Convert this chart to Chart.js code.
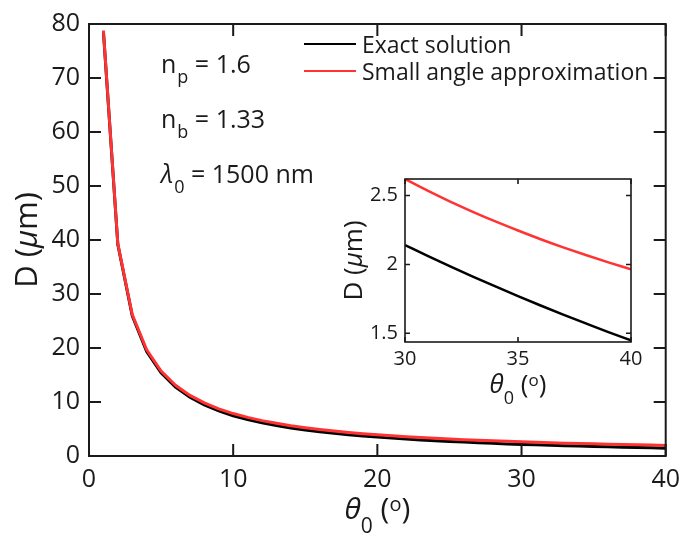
<!DOCTYPE html>
<html><head><meta charset="utf-8">
<script src="https://cdn.jsdelivr.net/npm/chart.js@4/dist/chart.umd.min.js"></script>
<style>
html,body{margin:0;padding:0;background:#fff;}
#wrap{position:relative;width:689px;height:538px;overflow:hidden;}
#main{position:absolute;left:0;top:0;}
#inset{position:absolute;left:330px;top:160px;}
</style></head><body>
<div id="wrap"><canvas id="main" width="689" height="538"></canvas><canvas id="inset" width="320" height="250"></canvas></div>
<script>
// ---- data ----
const theta = [1,2,3,4,5,6,7,8,9,10,11,12,13,14,15,16,17,18,19,20,21,22,23,24,25,26,27,28,29,30,31,32,33,34,35,36,37,38,39,40];
const exactD = [78.6,39.15,25.95,19.35,15.39,12.75,10.87,9.45,8.34,7.46,6.75,6.14,5.64,5.2,4.83,4.5,4.21,3.95,3.72,3.51,3.31,3.14,2.98,2.84,2.70,2.57,2.45,2.34,2.24,2.14,2.062,1.986,1.912,1.840,1.770,1.702,1.636,1.572,1.509,1.449];
const approxD = [78.8,39.3,26.2,19.65,15.72,13.1,11.23,9.83,8.73,7.86,7.15,6.55,6.05,5.61,5.24,4.91,4.62,4.37,4.14,3.93,3.74,3.57,3.42,3.28,3.14,3.02,2.91,2.81,2.71,2.62,2.535,2.456,2.382,2.312,2.246,2.183,2.124,2.068,2.015,1.965];
const seriesNames = ['Exact solution','Small angle approximation'];
const xTicksMain = [0,10,20,30,40];
const yTicksMain = [0,10,20,30,40,50,60,70,80];
const xTicksInset = [30,35,40];
const yTicksInset = [1.5,2,2.5];
const params = [['n','p','= 1.6'],['n','b','= 1.33'],['λ','0','= 1500 nm']];

const FONT = "'Open Sans', sans-serif";
const RED = '#ff3333', BLACK = '#000000', AX = '#1a1a1a';

function pts(xs, ys, lo){ const out=[]; xs.forEach((t,i)=>{ if(lo===undefined || t>=lo) out.push({x:t,y:ys[i]}); }); return out; }

function richWidth(ctx, parts){ let w=0; parts.forEach(p=>{ ctx.font=(p.italic?'italic ':'')+p.size+'px '+FONT; w+=ctx.measureText(p.t).width+(p.gap||0); }); return w; }
function drawRich(ctx, parts, x, y){ let cx=x; parts.forEach(p=>{ ctx.font=(p.italic?'italic ':'')+p.size+'px '+FONT; cx+=(p.gap||0); ctx.fillText(p.t, cx, y+(p.dy||0)); cx+=ctx.measureText(p.t).width; }); }
function drawRichCentered(ctx, parts, cx, y){ ctx.save(); ctx.translate(cx, y); ctx.textBaseline='alphabetic'; ctx.textAlign='left'; const w=richWidth(ctx, parts); drawRich(ctx, parts, -w/2, 0); ctx.restore(); }

function frameAndTicks(chart, xt, yt, len, lw){
  const {ctx, chartArea:a, scales:{x,y}} = chart;
  ctx.save(); ctx.strokeStyle=AX; ctx.lineWidth=lw;
  ctx.beginPath();
  xt.forEach(v=>{ const p=x.getPixelForValue(v); ctx.moveTo(p,a.bottom); ctx.lineTo(p,a.bottom-len); ctx.moveTo(p,a.top); ctx.lineTo(p,a.top+len); });
  yt.forEach(v=>{ const p=y.getPixelForValue(v); ctx.moveTo(a.left,p); ctx.lineTo(a.left+len,p); ctx.moveTo(a.right,p); ctx.lineTo(a.right-len,p); });
  ctx.stroke();
  ctx.strokeRect(a.left, a.top, a.right-a.left, a.bottom-a.top);
  ctx.restore();
}

const decorMain = { id:'decorMain', afterDraw(chart){
  const ctx = chart.ctx, a = chart.chartArea;
  frameAndTicks(chart, xTicksMain, yTicksMain, 12, 2);
  ctx.save(); ctx.fillStyle=AX; ctx.textBaseline='alphabetic';
  // legend
  const cols=[BLACK,RED], ly=[44,71];
  seriesNames.forEach((n,i)=>{
    ctx.strokeStyle=cols[i]; ctx.lineWidth=2; ctx.beginPath(); ctx.moveTo(304,ly[i]); ctx.lineTo(356,ly[i]); ctx.stroke();
    ctx.font='23px '+FONT; ctx.fillText(n, 362, ly[i]+9);
  });
  // parameter annotations
  const base=[73,128,183];
  params.forEach((p,i)=>{
    drawRich(ctx,[{t:p[0],size:25,italic:p[0]==='λ'},{t:p[1],size:18,dy:10,gap:1},{t:' '+p[2],size:25}],161,base[i]);
  });
  // x axis title
  drawRichCentered(ctx,[{t:'θ',size:30,italic:true},{t:'0',size:21,dy:14},{t:' (',size:30},{t:'o',size:20,dy:-8},{t:')',size:30}], (a.left+a.right)/2, 519);
  // y axis title
  ctx.translate(37,(a.top+a.bottom)/2); ctx.rotate(-Math.PI/2);
  drawRichCentered(ctx,[{t:'D (',size:31},{t:'μ',size:31,italic:true},{t:'m)',size:31}], 0, 0);
  ctx.restore();
}};

const decorInset = { id:'decorInset', afterDraw(chart){
  const ctx = chart.ctx, a = chart.chartArea;
  frameAndTicks(chart, xTicksInset, yTicksInset, 5, 1.6);
  ctx.save(); ctx.fillStyle=AX;
  drawRichCentered(ctx,[{t:'θ',size:26,italic:true},{t:'0',size:18,dy:11},{t:' (',size:26},{t:'o',size:17,dy:-7},{t:')',size:26}], (a.left+a.right)/2, 233);
  ctx.translate(32,(a.top+a.bottom)/2); ctx.rotate(-Math.PI/2);
  drawRichCentered(ctx,[{t:'D (',size:26},{t:'μ',size:26,italic:true},{t:'m)',size:26}], 0, 0);
  ctx.restore();
}};

function tickSetter(arr){ return s=>{ s.ticks = arr.map(v=>({value:v})); }; }
const plain = v => String(v);

new Chart(document.getElementById('main'), {
  type:'line',
  data:{ datasets:[
    {label:seriesNames[0], data:pts(theta,exactD), borderColor:BLACK, borderWidth:3, pointRadius:0, tension:0, order:1},
    {label:seriesNames[1], data:pts(theta,approxD), borderColor:RED, borderWidth:3, pointRadius:0, tension:0, order:0}
  ]},
  options:{
    responsive:false, animation:false, events:[],
    layout:{padding:{top:16,right:17,left:0,bottom:0}},
    plugins:{legend:{display:false}, tooltip:{enabled:false}},
    scales:{
      x:{type:'linear', min:0, max:40, afterBuildTicks:tickSetter(xTicksMain), afterFit:s=>{s.height=82;},
         grid:{display:false, drawTicks:false}, border:{display:false},
         ticks:{font:{family:FONT,size:25}, color:AX, padding:9, maxRotation:0, callback:plain}},
      y:{type:'linear', min:0, max:80, afterBuildTicks:tickSetter(yTicksMain), afterFit:s=>{s.width=89;},
         grid:{display:false, drawTicks:false}, border:{display:false},
         ticks:{font:{family:FONT,size:25}, color:AX, padding:9, callback:plain}}
    }
  },
  plugins:[decorMain]
});

new Chart(document.getElementById('inset'), {
  type:'line',
  data:{ datasets:[
    {label:seriesNames[0], data:pts(theta,exactD,30), borderColor:BLACK, borderWidth:2.5, pointRadius:0, cubicInterpolationMode:'monotone', clip:0},
    {label:seriesNames[1], data:pts(theta,approxD,30), borderColor:RED, borderWidth:2.5, pointRadius:0, cubicInterpolationMode:'monotone', clip:0}
  ]},
  options:{
    responsive:false, animation:false, events:[],
    layout:{padding:{top:11,right:19,left:0,bottom:0}},
    plugins:{legend:{display:false}, tooltip:{enabled:false}},
    scales:{
      x:{type:'linear', min:30, max:40, afterBuildTicks:tickSetter(xTicksInset), afterFit:s=>{s.height=68;},
         grid:{display:false, drawTicks:false}, border:{display:false},
         ticks:{font:{family:FONT,size:20}, color:AX, padding:5, maxRotation:0, callback:plain}},
      y:{type:'linear', min:1.437, max:2.62, afterBuildTicks:tickSetter(yTicksInset), afterFit:s=>{s.width=75;},
         grid:{display:false, drawTicks:false}, border:{display:false},
         ticks:{font:{family:FONT,size:20}, color:AX, padding:7, callback:plain}}
    }
  },
  plugins:[decorInset]
});
</script>
</body></html>
